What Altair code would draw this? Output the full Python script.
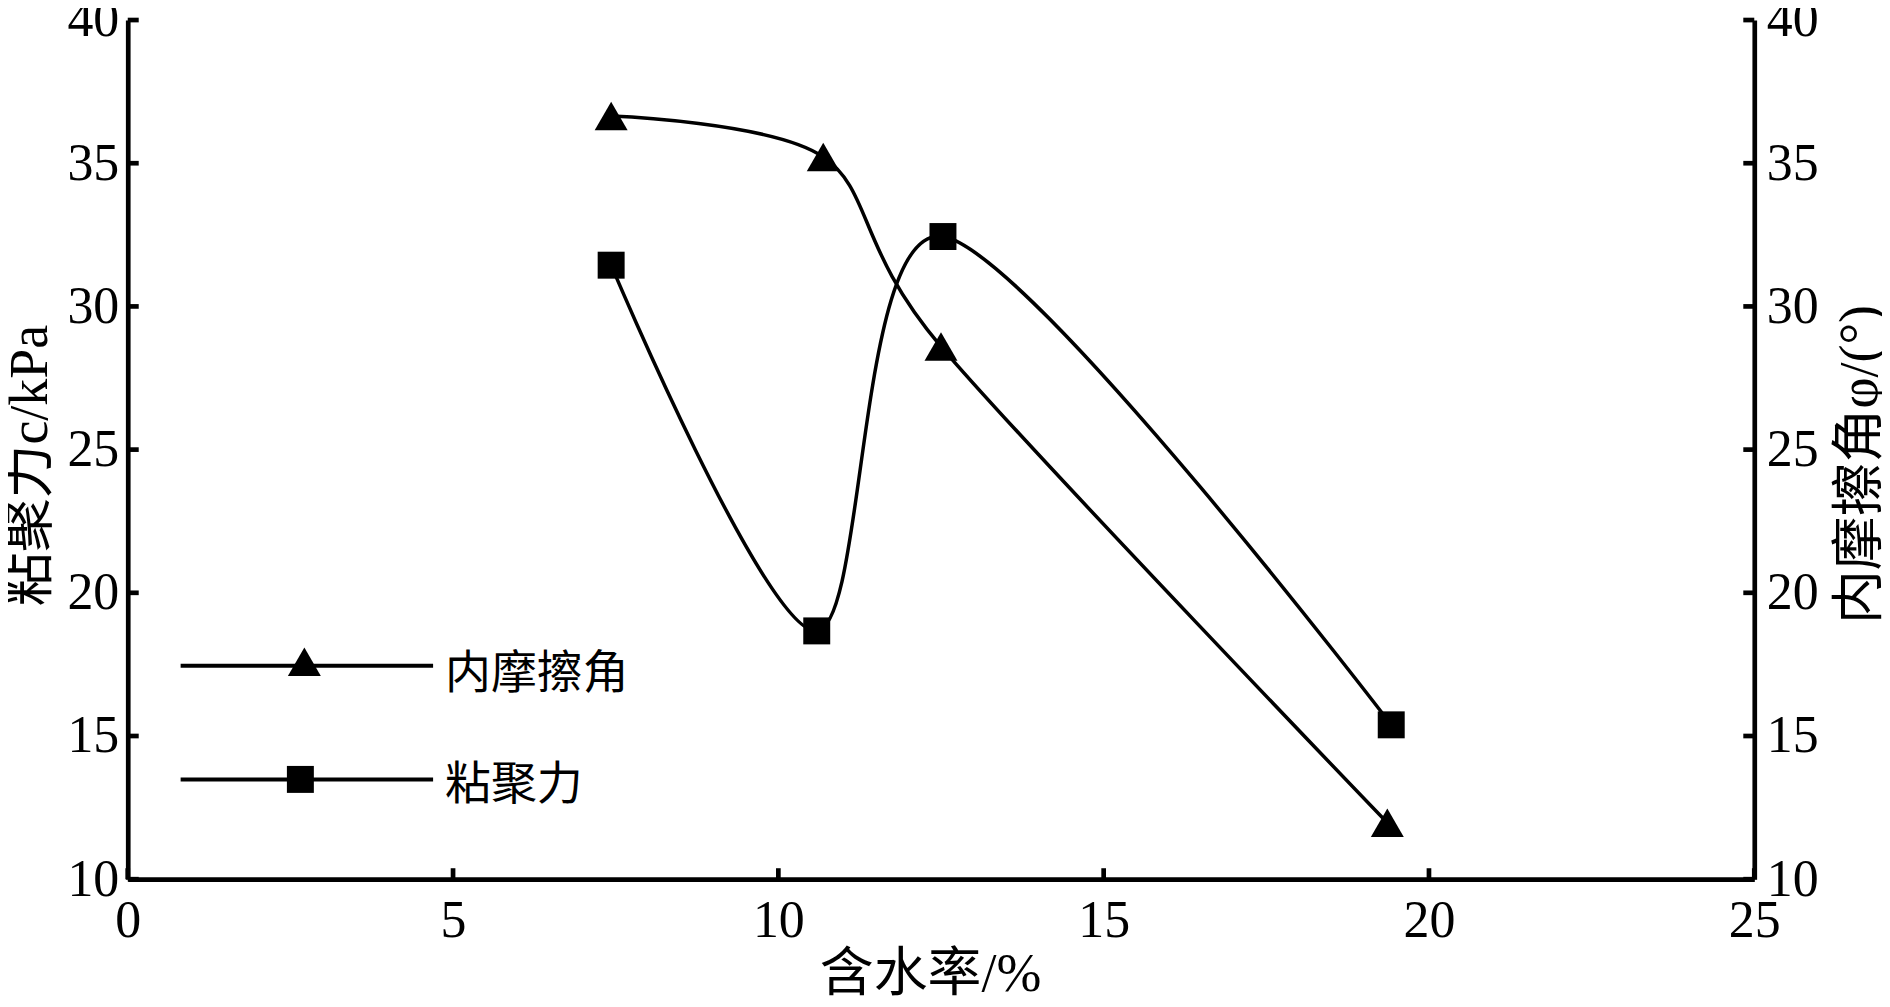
import altair as alt
import pandas as pd

# ---- data ----
water_phi = [7.43, 10.69, 12.50, 19.36]
phi_vals = [36.65, 35.22, 28.60, 11.97]
water_c = [7.43, 10.59, 12.53, 19.42]
c_vals = [31.44, 18.67, 32.44, 15.39]

x_ticks = [0, 5, 10, 15, 20, 25]
y_ticks = [10, 15, 20, 25, 30, 35, 40]

legend_labels = ["内摩擦角", "粘聚力"]
legend_shapes = ["triangle-up", "square"]
x_title = "含水率/%"
left_title = "粘聚力c/kPa"
right_title = "内摩擦角φ/(°)"

# ---- layout / style ----
W, H = 1630, 861
SERIF = "'Liberation Serif'"
MIXED = "'Liberation Serif', 'Noto Sans CJK SC'"
CJK = "'Noto Sans CJK SC'"
LW = 4.7
TICK = 11
SIZES = {"triangle-up": 1090, "square": 730}
CURVE = dict(interpolate="cardinal", tension=0.1, color="black", strokeWidth=3.5)

df_phi = pd.DataFrame({"w": water_phi, "v": phi_vals})
df_c = pd.DataFrame({"w": water_c, "v": c_vals})
df_xt = pd.DataFrame({"t": x_ticks})
df_yt = pd.DataFrame({"t": y_ticks})

xscale = alt.Scale(domain=[0, 25], nice=False, zero=False)
yscale = alt.Scale(domain=[10, 40], nice=False, zero=False)

common = dict(
    ticks=False, tickSize=0, grid=False,
    domainColor="black", domainWidth=LW,
    labelFont=SERIF, labelFontSize=52, labelColor="black",
    labelFlush=False, labelOverlap=False,
    titleFont=MIXED, titleFontSize=54, titleFontWeight="normal",
    titleColor="black", titleBaseline="alphabetic", titleAlign="center",
)

x_axis = alt.Axis(values=x_ticks, title=x_title, labelPadding=16,
                  titleX=804, titleY=112, titleAngle=0, **common)
left_axis = alt.Axis(values=y_ticks, title=left_title, orient="left",
                     labelPadding=9, titleAngle=270, titleX=-81, titleY=446,
                     **common)
right_axis = alt.Axis(values=y_ticks, title=right_title, orient="right",
                      labelPadding=12, titleAngle=270, titleX=122, titleY=445,
                      **common)

X = alt.X("w:Q", scale=xscale, axis=x_axis)

# cohesion (left axis)
c_line = alt.Chart(df_c).mark_line(**CURVE).encode(
    x=X, y=alt.Y("v:Q", scale=yscale, axis=left_axis))
c_pts = alt.Chart(df_c).mark_point(shape="square", filled=True, size=SIZES["square"],
                                   color="black", opacity=1).encode(
    x=X, y=alt.Y("v:Q", scale=yscale, axis=left_axis))
left_ticks = alt.Chart(df_yt).mark_rule(color="black", strokeWidth=LW).encode(
    y=alt.Y("t:Q", scale=yscale, axis=left_axis),
    x=alt.value(0), x2=alt.value(TICK))
bottom_ticks = alt.Chart(df_xt).mark_rule(color="black", strokeWidth=LW).encode(
    x=alt.X("t:Q", scale=xscale, axis=x_axis),
    y=alt.value(H - TICK), y2=alt.value(H))

# custom legend
legend_line_y = [647, 761]
legend_marker_y = [643, 761]
legend_marker_x = [177, 173]
legend_text_y = [655, 767]
legend_layers = []
for i, (lab, shp) in enumerate(zip(legend_labels, legend_shapes)):
    d = pd.DataFrame({"label": [lab]})
    legend_layers.append(
        alt.Chart(d).mark_rule(color="black", strokeWidth=4).encode(
            x=alt.value(53), x2=alt.value(306), y=alt.value(legend_line_y[i])))
    legend_layers.append(
        alt.Chart(d).mark_point(shape=shp, filled=True, size=SIZES[shp],
                                color="black", opacity=1).encode(
            x=alt.value(legend_marker_x[i]), y=alt.value(legend_marker_y[i])))
    legend_layers.append(
        alt.Chart(d).mark_text(font=CJK, fontSize=46, align="left",
                               baseline="middle", color="black").encode(
            x=alt.value(318), y=alt.value(legend_text_y[i]), text="label:N"))

left = alt.layer(c_line, c_pts, left_ticks, bottom_ticks, *legend_layers)

# friction angle (right axis)
phi_line = alt.Chart(df_phi).mark_line(**CURVE).encode(
    x=X, y=alt.Y("v:Q", scale=yscale, axis=right_axis))
phi_pts = alt.Chart(df_phi).mark_point(shape="triangle-up", filled=True,
                                       size=SIZES["triangle-up"],
                                       color="black", opacity=1).encode(
    x=X, y=alt.Y("v:Q", scale=yscale, axis=right_axis))
right_ticks = alt.Chart(df_yt).mark_rule(color="black", strokeWidth=LW).encode(
    y=alt.Y("t:Q", scale=yscale, axis=right_axis),
    x=alt.value(W - TICK), x2=alt.value(W))

right = alt.layer(phi_line, phi_pts, right_ticks)

chart = alt.layer(left, right).resolve_scale(y="independent").properties(
    width=W, height=H,
    autosize=alt.AutoSizeParams(type="none"),
    padding={"left": 120, "top": 11, "right": 128, "bottom": 119},
    background="white",
).configure_view(strokeWidth=0)

chart.save("out.html", embed_options={"renderer": "svg", "actions": False})
